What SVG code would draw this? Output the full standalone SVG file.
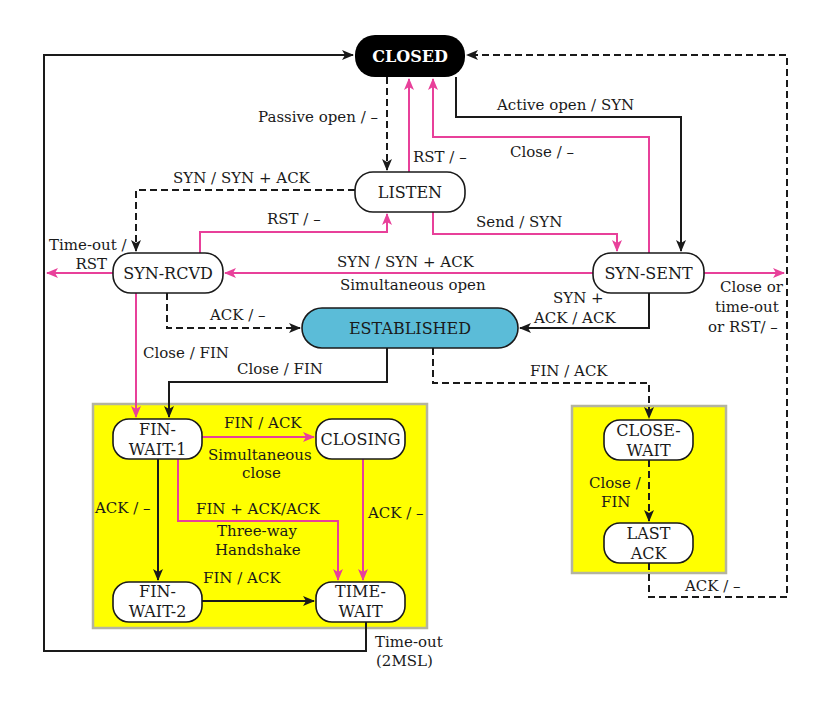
<svg xmlns="http://www.w3.org/2000/svg" width="830" height="702" viewBox="0 0 830 702">
<defs>
<style>
text{font-family:"DejaVu Serif","Liberation Serif",serif;fill:#1a1a1a;}
.lb{font-size:15px;}
.nt{font-size:16px;text-anchor:middle;}
.node{fill:#fff;stroke:#1a1a1a;stroke-width:1.6;}
.k{fill:none;stroke:#1a1a1a;stroke-width:2;marker-end:url(#ak);}
.d{fill:none;stroke:#1a1a1a;stroke-width:2;stroke-dasharray:7,4;marker-end:url(#ak);}
.p{fill:none;stroke:#e8409a;stroke-width:2;marker-end:url(#ap);}
.box{fill:#ffff00;stroke:#b4b4a0;stroke-width:2.5;}
</style>
<marker id="ak" viewBox="0 0 12 10" refX="11" refY="5" markerWidth="12" markerHeight="10" markerUnits="userSpaceOnUse" orient="auto">
<path d="M0,0 L12,5 L0,10 L3,5 z" fill="#1a1a1a"/>
</marker>
<marker id="ap" viewBox="0 0 12 10" refX="11" refY="5" markerWidth="12" markerHeight="10" markerUnits="userSpaceOnUse" orient="auto">
<path d="M0,0 L12,5 L0,10 L3,5 z" fill="#e8409a"/>
</marker>
</defs>
<rect width="830" height="702" fill="#fff"/>
<rect class="box" x="93" y="404" width="334" height="224"/>
<rect class="box" x="572" y="406" width="154" height="167"/>

<g id="connectors">
<path class="k" d="M366,622 V651 H44 V55 H353"/>
<path class="d" d="M387,77 V170"/>
<path class="p" d="M409,172 V79"/>
<path class="p" d="M649,253 V137 H433 V79"/>
<path class="k" d="M456,77 V117 H681 V251"/>
<path class="d" d="M649,563 V597 H787 V55 H467"/>
<path class="p" d="M704,273 H784"/>
<path class="d" d="M355,190 H136 V251"/>
<path class="p" d="M200,253 V232 H387 V214"/>
<path class="p" d="M113,273 H47"/>
<path class="p" d="M593,273 H225"/>
<path class="p" d="M433,212 V234 H617 V251"/>
<path class="k" d="M649,293 V328 H520"/>
<path class="d" d="M167,293 V328 H300"/>
<path class="p" d="M136,293 V417"/>
<path class="k" d="M387,348 V382 H169 V417"/>
<path class="d" d="M433,348 V383 H649 V418"/>
<path class="p" d="M202,437 H314"/>
<path class="k" d="M158,459 V580"/>
<path class="p" d="M178,459 V521 H338 V580"/>
<path class="p" d="M363,459 V580"/>
<path class="k" d="M202,601 H314"/>
<path class="d" d="M649,460 V521"/>
</g>

<g id="labels" class="lb">
<text x="378" y="122" text-anchor="end">Passive open / –</text>
<text x="413" y="162">RST / –</text>
<text x="497" y="110">Active open / SYN</text>
<text x="510" y="157">Close / –</text>
<text x="173" y="183">SYN / SYN + ACK</text>
<text x="267" y="224">RST / –</text>
<text x="49" y="250">Time-out /</text>
<text x="107" y="269" text-anchor="end">RST</text>
<text x="337" y="267">SYN / SYN + ACK</text>
<text x="340" y="290">Simultaneous open</text>
<text x="476" y="227">Send / SYN</text>
<text x="553" y="303">SYN +</text>
<text x="534" y="323">ACK / ACK</text>
<text x="720" y="292">Close or</text>
<text x="715" y="312">time-out</text>
<text x="708" y="332">or RST/ –</text>
<text x="210" y="320">ACK / –</text>
<text x="143" y="358">Close / FIN</text>
<text x="237" y="374">Close / FIN</text>
<text x="530" y="376">FIN / ACK</text>
<text x="224" y="428">FIN / ACK</text>
<text x="208" y="460">Simultaneous</text>
<text x="242" y="478">close</text>
<text x="95" y="513">ACK / –</text>
<text x="196" y="514">FIN + ACK/ACK</text>
<text x="217" y="536">Three-way</text>
<text x="215" y="555">Handshake</text>
<text x="368" y="518">ACK / –</text>
<text x="203" y="583">FIN / ACK</text>
<text x="375" y="647">Time-out</text>
<text x="376" y="666">(2MSL)</text>
<text x="589" y="488">Close /</text>
<text x="601" y="507">FIN</text>
<text x="685" y="591">ACK / –</text>
</g>

<g id="closed">
<rect x="355" y="35" width="110" height="42" rx="20" fill="#000"/>
<text class="nt" x="410" y="62" style="fill:#fff;font-weight:bold">CLOSED</text>
</g>
<g id="listen">
<rect class="node" x="355" y="172" width="110" height="40" rx="18"/>
<text class="nt" x="410" y="198">LISTEN</text>
</g>
<g id="syn-rcvd">
<rect class="node" x="113" y="253" width="110" height="40" rx="18"/>
<text class="nt" x="168" y="279">SYN-RCVD</text>
</g>
<g id="syn-sent">
<rect class="node" x="593" y="253" width="111" height="40" rx="18"/>
<text class="nt" x="648.5" y="279">SYN-SENT</text>
</g>
<g id="established">
<rect x="302" y="308" width="216" height="40" rx="20" fill="#5bbcd8" stroke="#1a1a1a" stroke-width="1.6"/>
<text class="nt" x="410" y="334">ESTABLISHED</text>
</g>
<g id="fin-wait-1">
<rect class="node" x="113" y="419" width="89" height="40" rx="16"/>
<text class="nt" x="157.5" y="435">FIN-</text>
<text class="nt" x="157.5" y="455">WAIT-1</text>
</g>
<g id="closing">
<rect class="node" x="316" y="419" width="89" height="40" rx="16"/>
<text class="nt" x="360.5" y="445">CLOSING</text>
</g>
<g id="fin-wait-2">
<rect class="node" x="113" y="582" width="89" height="40" rx="16"/>
<text class="nt" x="157.5" y="597">FIN-</text>
<text class="nt" x="157.5" y="617">WAIT-2</text>
</g>
<g id="time-wait">
<rect class="node" x="316" y="582" width="89" height="40" rx="16"/>
<text class="nt" x="360.5" y="597">TIME-</text>
<text class="nt" x="360.5" y="617">WAIT</text>
</g>
<g id="close-wait">
<rect class="node" x="604" y="420" width="89" height="40" rx="16"/>
<text class="nt" x="648.5" y="436">CLOSE-</text>
<text class="nt" x="648.5" y="456">WAIT</text>
</g>
<g id="last-ack">
<rect class="node" x="604" y="523" width="89" height="40" rx="16"/>
<text class="nt" x="648.5" y="539">LAST</text>
<text class="nt" x="648.5" y="559">ACK</text>
</g>
</svg>
